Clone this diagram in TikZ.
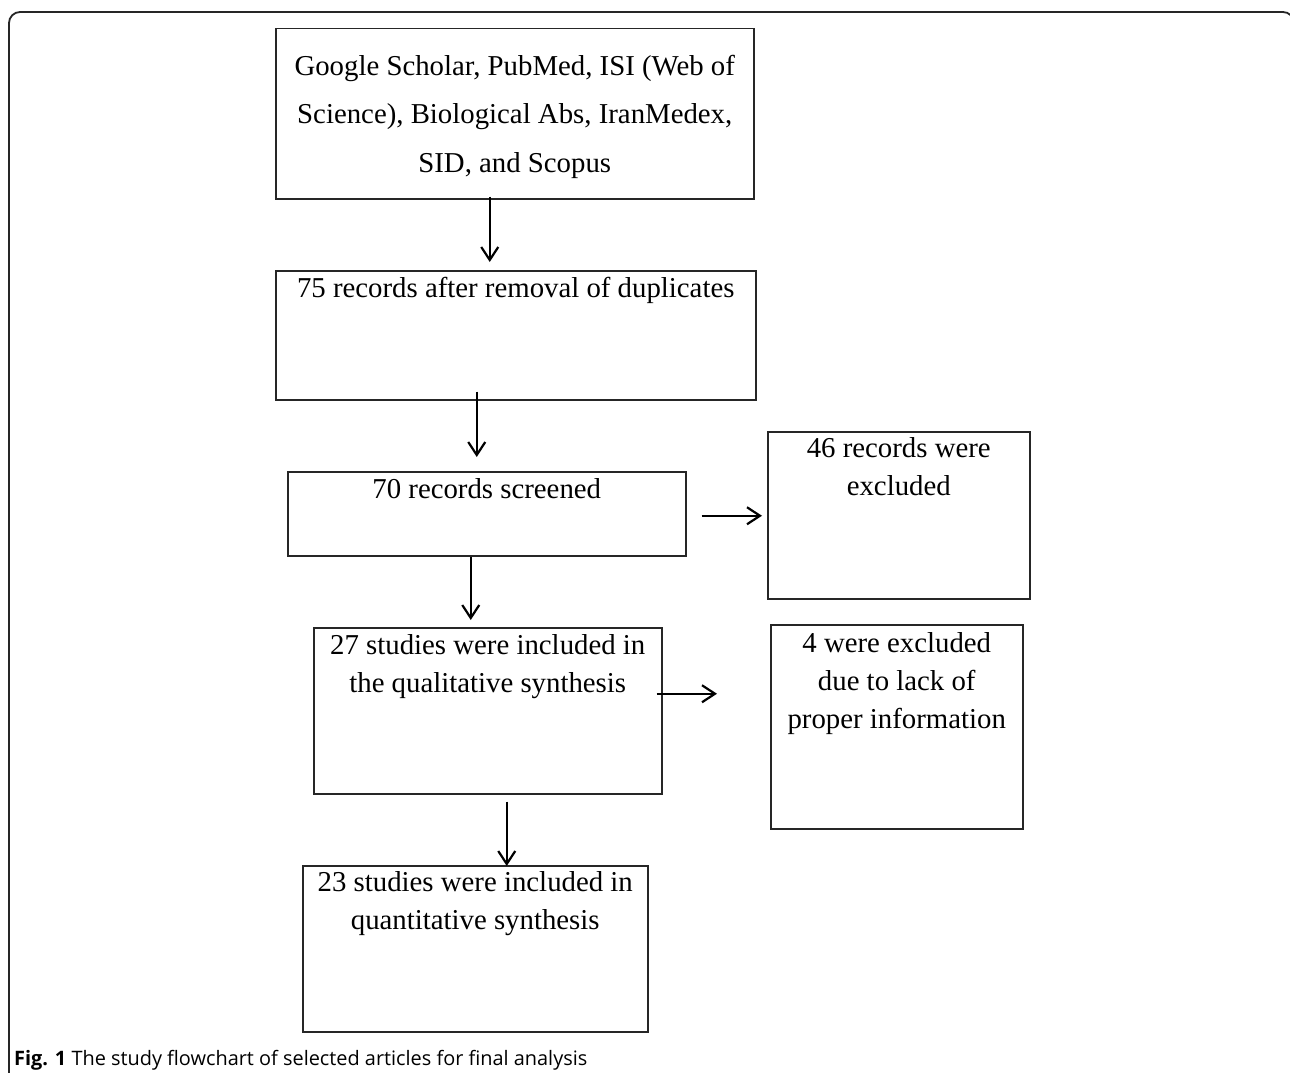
\documentclass[tikz,border=0pt]{standalone}
\usepackage{fontspec}
\setmainfont{Liberation Serif}
\newfontfamily\capfont{Open Sans}
\usetikzlibrary{arrows.meta}

\begin{document}
\begin{tikzpicture}[x=1pt, y=-1pt,
	box/.style={draw=black!85, line width=1.5pt, anchor=north west, inner sep=0pt},
	txt/.style={anchor=north, align=center, inner sep=0pt, font=\fontsize{28.8}{38}\selectfont},
	arr/.style={-{Straight Barb[length=13pt, width=17pt]}, line width=2.2pt},
	frame/.style={draw=black!85, line width=1.8pt, rounded corners=11pt}]
	
	\useasboundingbox (0,0) rectangle (1290,1073);
	\draw[frame] (9,1090) -- (9,12) -- (1294,12) -- (1294,1090);
	
	\node[box, minimum width=478, minimum height=170] (search) at (275, 28)  {};
	\node[box, minimum width=480, minimum height=129] (dedup)  at (275, 270) {};
	\node[box, minimum width=398, minimum height=84]  (screen) at (287, 471) {};
	\node[box, minimum width=262, minimum height=167] (excla)  at (767, 431) {};
	\node[box, minimum width=348, minimum height=166] (qual)   at (313, 627) {};
	\node[box, minimum width=252, minimum height=204] (exclb)  at (770, 624) {};
	\node[box, minimum width=345, minimum height=166] (quant)  at (302, 865) {};
	
	\node[txt, font=\fontsize{28.8}{48.5}\selectfont] (searcht) at ([yshift=-27pt]search.north)
		{Google Scholar, PubMed, ISI (Web of\\Science), Biological Abs, IranMedex,\\SID, and Scopus};
	\node[txt] (dedupt)  at ([yshift=-7pt]dedup.north)  {75 records after removal of duplicates};
	\node[txt] (screent) at ([yshift=-7pt]screen.north) {70 records screened};
	\node[txt] (exclat)  at ([yshift=-6pt]excla.north)  {46 records were\\excluded};
	\node[txt] (qualt)   at ([yshift=-7pt]qual.north)   {27 studies were included in\\the qualitative synthesis};
	\node[txt] (exclbt)  at ([yshift=-8pt]exclb.north)  {4 were excluded\\due to lack of\\proper information};
	\node[txt] (quantt)  at ([yshift=-6pt]quant.north)  {23 studies were included in\\quantitative synthesis};
	
	\node[anchor=base west, inner sep=0pt, font=\capfont\fontsize{19.9}{24}\selectfont] (caption) at (14, 1065)
		{\textbf{Fig. 1} The study flowchart of selected articles for final analysis};
	
	\draw[arr] ([xshift=-25pt, yshift=3pt]search.south) -- ([xshift=-25pt, yshift=8pt]search.south |- dedup.north);
	\draw[arr] ([xshift=-39pt, yshift=9pt]dedup.south) -- ([xshift=-39pt, yshift=14pt]dedup.south |- screen.north);
	\draw[arr] ([xshift=15pt, yshift=-2pt]screen.east) -- ([xshift=-5pt, yshift=-2pt]excla.west |- screen.east);
	\draw[arr] ([xshift=-16pt]screen.south) -- ([xshift=-16pt, yshift=7pt]screen.south |- qual.north);
	\draw[arr] ([xshift=-6pt, yshift=17pt]qual.east) -- ([xshift=-53pt, yshift=17pt]qual.east -| exclb.west);
	\draw[arr] ([xshift=19pt, yshift=-7pt]qual.south) -- ([xshift=19pt, yshift=-1pt]qual.south |- quant.north);
	
\end{tikzpicture}
\end{document}
